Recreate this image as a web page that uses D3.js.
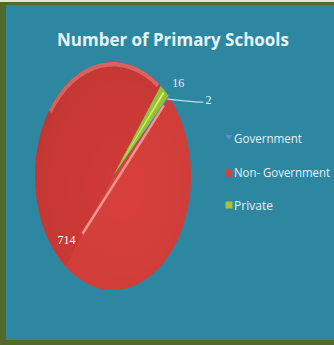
<!DOCTYPE html>
<html>
<head>
<meta charset="utf-8">
<script src="https://cdn.jsdelivr.net/npm/d3@7"></script>
<style>
  html, body { margin: 0; padding: 0; background: #fff; }
  svg { display: block; }
</style>
</head>
<body>
<svg id="chart" width="334" height="345"></svg>
<script>
// School counts by management type
const categories = ["Government", "Non- Government", "Private"];
const values = [2, 714, 16];
const colors = ["#4f81bd", "#d8403c", "#9bc83a"];
const chartTitle = "Number of Primary Schools";

const svg = d3.select("#chart");
const W = 334, H = 345;

// frame and slide background
svg.append("rect").attr("width", W).attr("height", H).attr("fill", "#e9e2cf");
svg.append("rect").attr("x", 0).attr("y", 2).attr("width", W).attr("height", H - 2).attr("fill", "#4f6a2a");
const defs = svg.append("defs");
svg.append("rect").attr("x", 6).attr("y", 5).attr("width", W - 6).attr("height", H - 10).attr("fill", "#2e87a1");

// title, sized to a fixed width
const title = svg.append("text")
  .attr("x", 173).attr("y", 46)
  .attr("text-anchor", "middle")
  .attr("font-family", "'Liberation Sans Narrow', 'Open Sans', sans-serif")
  .attr("font-weight", "bold")
  .attr("font-size", 22)
  .attr("fill", "#e4f4f9")
  .text(chartTitle);
const tw = title.node().getComputedTextLength();
title.attr("font-size", Math.min(26, 22 * 232 / tw));

// pie drawn on a unit radius and stretched into a tall ellipse
const cx = 113, cy = 176, rx = 78, ry = 114, R = 100;
const pie = d3.pie().sort(null).value(d => d)
  .startAngle(45.5 * Math.PI / 180)
  .endAngle(45.5 * Math.PI / 180 + 2 * Math.PI);
const arcs = pie(values);
const arc = d3.arc().innerRadius(0).outerRadius(R);

const shade = defs.append("radialGradient").attr("id", "shade")
  .attr("cx", "0.55").attr("cy", "0.55").attr("r", "0.6");
shade.append("stop").attr("offset", "0").attr("stop-color", "#000").attr("stop-opacity", 0);
shade.append("stop").attr("offset", "0.85").attr("stop-color", "#000").attr("stop-opacity", 0.04);
shade.append("stop").attr("offset", "1").attr("stop-color", "#000").attr("stop-opacity", 0.1);

const pg = svg.append("g")
  .attr("transform", `translate(${cx},${cy}) scale(${rx / R},${ry / R})`);

pg.selectAll("path.slice")
  .data(arcs)
  .join("path")
  .attr("class", "slice")
  .attr("d", arc)
  .attr("fill", (d, i) => colors[i]);

// darker half on the upper-left side of the large slice
const big = arcs[1];
const darkArc = d3.arc().innerRadius(0).outerRadius(R)
  .startAngle(big.endAngle - Math.PI).endAngle(big.endAngle);
pg.append("path").attr("d", darkArc()).attr("fill", "#b8302e").attr("opacity", 0.3);

pg.append("circle").attr("r", R).attr("fill", "url(#shade)");

// soft light rim along the top edge
const rim = d3.arc().innerRadius(R - 4).outerRadius(R)
  .startAngle(-55 * Math.PI / 180).endAngle(36 * Math.PI / 180);
pg.append("path").attr("d", rim()).attr("fill", "#f29a92").attr("opacity", 0.45);

// point on the ellipse for a given angle and radius fraction
function ept(a, f) {
  return [cx + rx * f * Math.sin(a), cy - ry * f * Math.cos(a)];
}

// highlight along the slice seam
const seamA = big.endAngle;
const s0 = ept(seamA + Math.PI, 0.64);
const s1 = ept(arcs[0].endAngle, 0.9);
svg.append("line")
  .attr("x1", s0[0]).attr("y1", s0[1])
  .attr("x2", s1[0]).attr("y2", s1[1])
  .attr("stroke", "#f3968c")
  .attr("stroke-width", 2.5);

// green slice highlight
const greenHi = d3.arc().innerRadius(20).outerRadius(R * 0.98)
  .startAngle((arcs[2].startAngle + arcs[2].endAngle) / 2 - 0.012)
  .endAngle((arcs[2].startAngle + arcs[2].endAngle) / 2 + 0.012);
pg.append("path").attr("d", greenHi()).attr("fill", "#d8ec6a");

const lab = svg.append("g")
  .attr("font-family", "'Liberation Serif', serif")
  .attr("font-size", 12)
  .attr("fill", "#e8f4fa");

// Private label
const pMid = (arcs[2].startAngle + arcs[2].endAngle) / 2;
const pp = ept(pMid, 1.07);
lab.append("text").attr("x", pp[0] + 4).attr("y", pp[1] + 2).attr("text-anchor", "start").text(values[2]);

// Government label with leader line
const gMid = (arcs[0].startAngle + arcs[0].endAngle) / 2;
const g0 = ept(gMid, 0.97);
svg.append("polyline")
  .attr("points", [[g0[0], g0[1]], [g0[0] + 30, g0[1] + 3], [g0[0] + 36, g0[1] + 3]].map(p => p.join(",")).join(" "))
  .attr("fill", "none").attr("stroke", "#bfe0ee").attr("stroke-width", 1.2);
lab.append("text").attr("x", g0[0] + 38).attr("y", g0[1] + 5).text(values[0]);

// Non-Government label, just past the lower end of the seam
lab.append("text").attr("x", s0[0] - 16).attr("y", s0[1] + 10)
  .attr("text-anchor", "middle").attr("fill", "#fff").text(values[1]);

// legend
const leg = svg.append("g")
  .attr("font-family", "'Open Sans', sans-serif")
  .attr("font-size", 12)
  .attr("fill", "#e3f1f8");
const legY = [143, 177, 210];
categories.forEach((c, i) => {
  const y = legY[i];
  if (i === 0) {
    leg.append("path").attr("d", `M${225.5},${y - 8} L${232.5},${y - 8} L${229},${y - 3} Z`).attr("fill", "#5b8fd0");
  } else if (i === 1) {
    leg.append("ellipse").attr("cx", 229).attr("cy", y - 4).attr("rx", 3.2).attr("ry", 4.5).attr("fill", colors[1]);
  } else {
    leg.append("rect").attr("x", 225.5).attr("y", y - 8.5).attr("width", 7).attr("height", 7).attr("fill", colors[2]);
  }
  leg.append("text").attr("x", 234).attr("y", y)
    .attr("textLength", [68, 96, 39][i])
    .attr("lengthAdjust", "spacingAndGlyphs")
    .text(c);
});
</script>
</body>
</html>
